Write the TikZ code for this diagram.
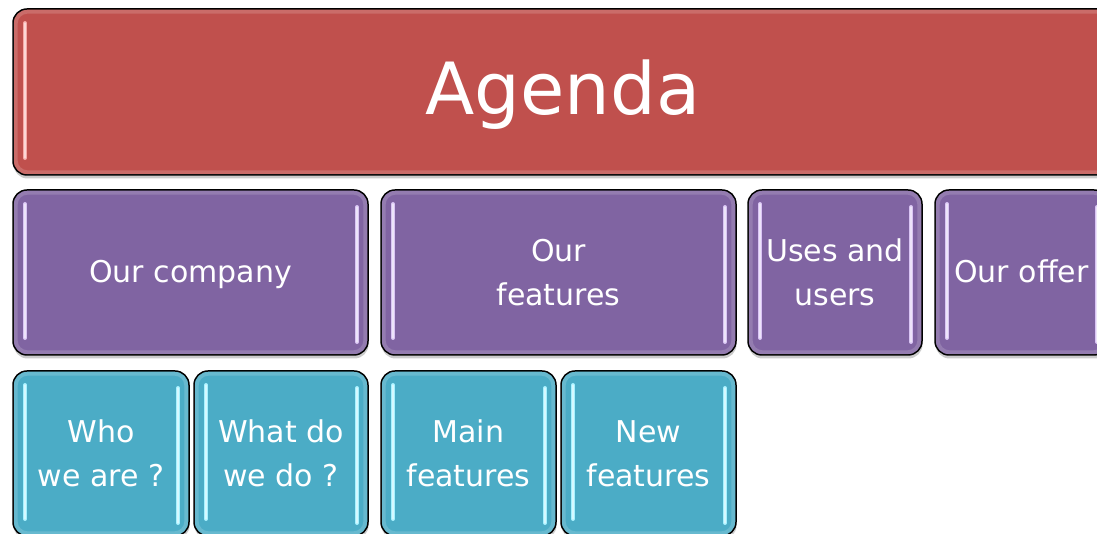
\documentclass[tikz,border=0pt]{standalone}
\usepackage{fontspec}
\setmainfont{DejaVu Sans}
\usetikzlibrary{shadows}
\definecolor{redM}{HTML}{C0504D}
\definecolor{purM}{HTML}{8064A2}
\definecolor{tealM}{HTML}{4BACC6}
\definecolor{redH}{HTML}{F7A9A6}
\definecolor{purH}{HTML}{D9C4F4}
\definecolor{tealH}{HTML}{A6F1FF}
\tikzset{
  tile/.style={draw=black, line width=1.5pt, rounded corners=14pt, inner sep=0pt, outer sep=0pt,
    text=white, align=center, minimum height=165pt,
    drop shadow={shadow xshift=0.5pt, shadow yshift=-3.5pt, opacity=0.2, fill=black}},
  lbl/.style={font=\fontsize{30}{44}\selectfont},
  onel/.style={text height=24pt, text depth=3pt},
  rimline/.style={draw=white, draw opacity=0.16, line width=4pt, rounded corners=12pt},
  hl/.style={line width=4pt, line cap=round, draw=#1},
  hlcore/.style={line width=1.4pt, line cap=round, draw=white, draw opacity=0.55}
}
\newcommand\rimof[1]{\draw[rimline] ([xshift=2.6pt,yshift=-2.6pt]#1.north west) rectangle ([xshift=-2.6pt,yshift=2.6pt]#1.south east);}
\newcommand\hlof[2]{%
  \draw[hl=#2] ([xshift=12pt,yshift=-14pt]#1.north west) -- ([xshift=12pt,yshift=17pt]#1.south west);
  \draw[hlcore] ([xshift=12pt,yshift=-14pt]#1.north west) -- ([xshift=12pt,yshift=17pt]#1.south west);
  \draw[hl=#2] ([xshift=-11pt,yshift=-17pt]#1.north east) -- ([xshift=-11pt,yshift=13pt]#1.south east);
  \draw[hlcore] ([xshift=-11pt,yshift=-17pt]#1.north east) -- ([xshift=-11pt,yshift=13pt]#1.south east);}
\begin{document}
\begin{tikzpicture}[x=1pt,y=1pt]
\useasboundingbox (0,0) rectangle (1097,534);
\clip (0,0) rectangle (1097,534);
\fill[white] (0,0) rectangle (1097,534);
% top level
\node[tile, fill=redM, minimum width=1100pt, minimum height=166pt,
  font=\fontsize{72}{80}\selectfont, text height=56pt, text depth=10pt] (agenda) at (563,442) {Agenda};
% second level
\node[tile, lbl, onel, fill=purM, minimum width=355pt] (comp) at (190.5,261.5) {Our company};
\node[tile, lbl, fill=purM, minimum width=355pt] (feat) at (558.5,261.5) {Our\\features};
\node[tile, lbl, fill=purM, minimum width=174pt] (uses) at (835,261.5) {Uses and\\users};
\node[tile, lbl, onel, fill=purM, minimum width=173pt] (offer) at (1021.5,261.5) {Our offer};
% third level
\node[tile, lbl, fill=tealM, minimum width=176pt] (who) at (101,80.5) {Who\\we are ?};
\node[tile, lbl, fill=tealM, minimum width=174pt] (what) at (281,80.5) {What do\\we do ?};
\node[tile, lbl, fill=tealM, minimum width=175pt] (mainf) at (468.5,80.5) {Main\\features};
\node[tile, lbl, fill=tealM, minimum width=175pt] (newf) at (648.5,80.5) {New\\features};
% rims and highlights
\foreach \n in {agenda}{\rimof{\n}\hlof{\n}{redH}}
\foreach \n in {comp,feat,uses,offer}{\rimof{\n}\hlof{\n}{purH}}
\foreach \n in {who,what,mainf,newf}{\rimof{\n}\hlof{\n}{tealH}}
\end{tikzpicture}
\end{document}
